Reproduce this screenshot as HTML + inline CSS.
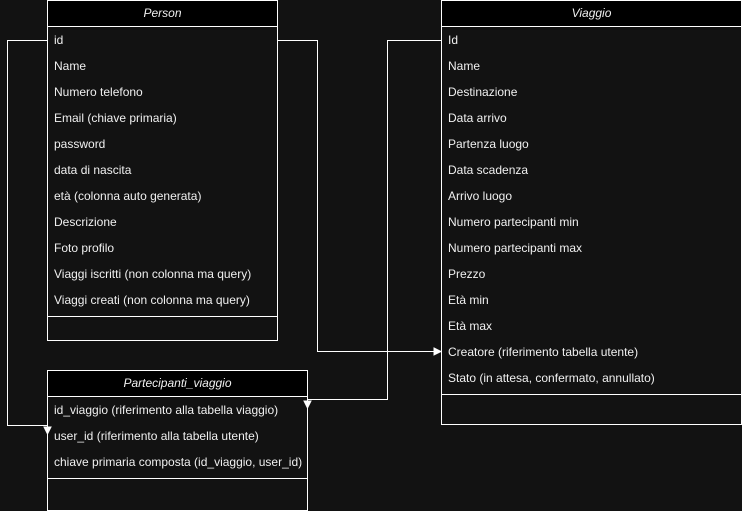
<!DOCTYPE html><html><head><style>
html,body{margin:0;width:742px;height:511px;overflow:hidden}
body{background:#121212;font-family:"Liberation Sans",sans-serif;font-size:12px;color:#f0f0f0;position:relative}
.t{position:absolute;border:1px solid #fff;box-sizing:border-box;background:#121212}
.h{height:25px;line-height:25px;text-align:center;font-style:italic;background:#000;border-bottom:1px solid #fff}
.r{height:26px;line-height:26px;padding-left:6px;white-space:nowrap}
.s{border-top:1px solid #fff;margin-top:3px}
svg{position:absolute;left:0;top:0}
</style></head><body>
<div class="t" style="left:47px;top:0;width:231px;height:341px">
<div class="h">Person</div>
<div class="r">id</div><div class="r">Name</div><div class="r">Numero telefono</div><div class="r">Email (chiave primaria)</div><div class="r">password</div><div class="r">data di nascita</div><div class="r">età (colonna auto generata)</div><div class="r">Descrizione</div><div class="r">Foto profilo</div><div class="r">Viaggi iscritti (non colonna ma query)</div><div class="r">Viaggi creati (non colonna ma query)</div><div class="s"></div>
</div>
<div class="t" style="left:441px;top:0;width:301px;height:425px">
<div class="h">Viaggio</div>
<div class="r">Id</div><div class="r">Name</div><div class="r">Destinazione</div><div class="r">Data arrivo</div><div class="r">Partenza luogo</div><div class="r">Data scadenza</div><div class="r">Arrivo luogo</div><div class="r">Numero partecipanti min</div><div class="r">Numero partecipanti max</div><div class="r">Prezzo</div><div class="r">Età min</div><div class="r">Età max</div><div class="r">Creatore (riferimento tabella utente)</div><div class="r">Stato (in attesa, confermato, annullato)</div><div class="s"></div>
</div>
<div class="t" style="left:47px;top:370px;width:261px;height:141px">
<div class="h">Partecipanti_viaggio</div>
<div class="r">id_viaggio (riferimento alla tabella viaggio)</div><div class="r">user_id (riferimento alla tabella utente)</div><div class="r">chiave primaria composta (id_viaggio, user_id)</div><div class="s"></div>
</div>
<svg width="742" height="511" fill="none" stroke="#fff" stroke-width="1">
<polyline points="47.5,40.5 7.5,40.5 7.5,425.5 47.5,425.5 47.5,428"/>
<polygon points="44,427 51,427 47.5,434" fill="#fff"/>
<polyline points="277.5,40.5 317.5,40.5 317.5,351.5 435,351.5"/>
<polygon points="434,348 441,351.5 434,355" fill="#fff"/>
<polyline points="441.5,40.5 387.5,40.5 387.5,399.5 307.5,399.5 307.5,402"/>
<polygon points="304,401 311,401 307.5,408" fill="#fff"/>
</svg>
</body></html>
